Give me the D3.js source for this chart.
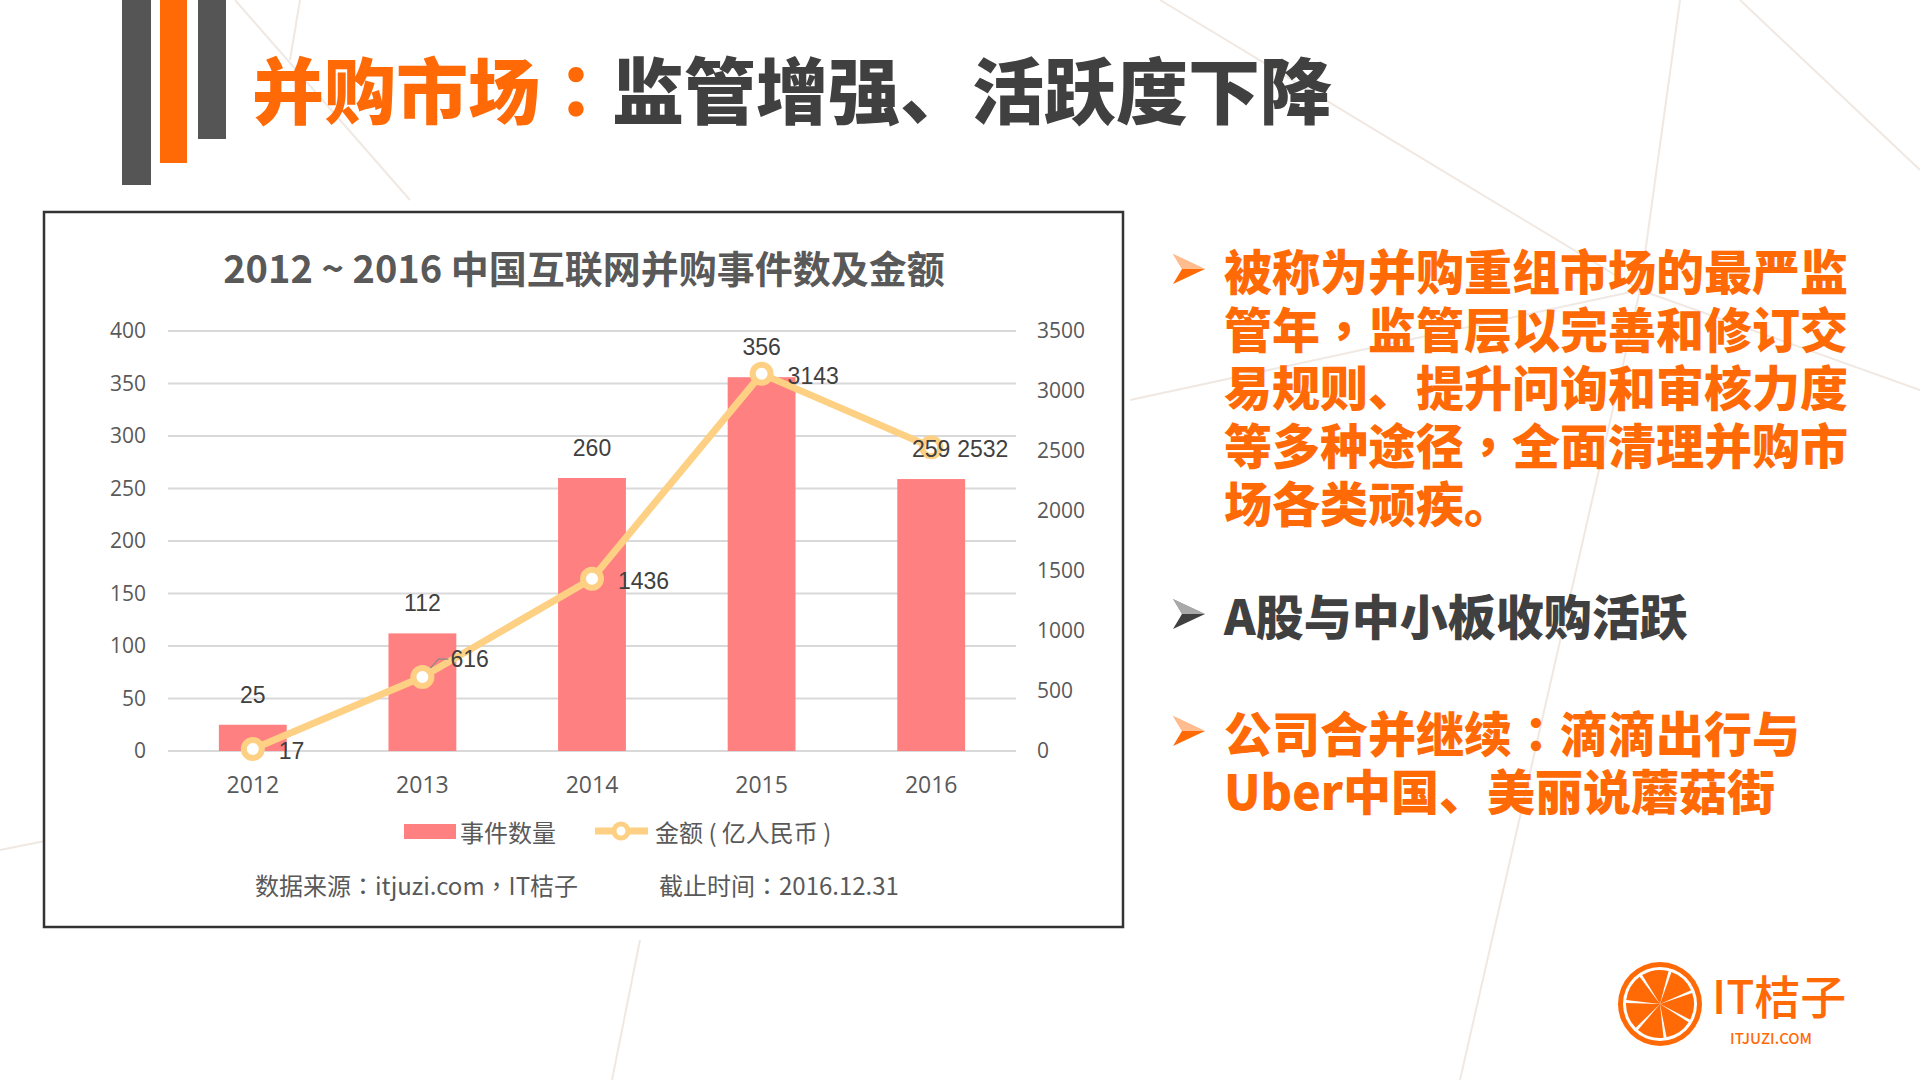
<!DOCTYPE html>
<html><head><meta charset="utf-8">
<script src="https://cdn.jsdelivr.net/npm/d3@7"></script>
<style>
html,body{margin:0;padding:0;background:#fff;}
svg{display:block;}
</style></head>
<body>
<svg id="c" width="1920" height="1080"></svg>
<script>
// ---- data ----
const years = ['2012','2013','2014','2015','2016'];
const events = [25,112,260,356,259];
const amounts = [17,616,1436,3143,2532];
const leftTicks = [0,50,100,150,200,250,300,350,400];
const rightTicks = [0,500,1000,1500,2000,2500,3000,3500];
const chartTitle = '2012 ~ 2016 中国互联网并购事件数及金额';
const legendLabels = ['事件数量','金额 ( 亿人民币 )'];
const sourceText = '数据来源：itjuzi.com，IT桔子';
const dateText = '截止时间：2016.12.31';
const pageTitleA = '并购市场：';
const pageTitleB = '监管增强、活跃度下降';
const bullet1 = ['被称为并购重组市场的最严监','管年，监管层以完善和修订交','易规则、提升问询和审核力度','等多种途径，全面清理并购市','场各类顽疾。'];
const bullet2 = ['A股与中小板收购活跃'];
const bullet3 = ['公司合并继续：滴滴出行与','Uber中国、美丽说蘑菇街'];

const ORANGE = '#ff6a06', DARK = '#404040', BAR = '#ff8080', LINE = '#fdd084';
const CJK = "'Noto Sans CJK SC','Noto Sans',sans-serif";
const CJKTC = "'Noto Sans CJK TC','Noto Sans CJK SC',sans-serif";
const NUM = "'Liberation Sans',Arial,sans-serif";

const svg = d3.select('#c');

// put centred punctuation (：，) in a TC font like the reference
function richText(sel, str){
  const parts = str.split(/([：，])/).filter(s=>s.length);
  parts.forEach(p=>{
    const t = sel.append('tspan').text(p);
    if (p==='：'||p==='，') t.style('font-family',CJKTC);
  });
  return sel;
}

// background decoration lines
const deco = [[235,0,410,200],[1160,0,1640,290],[1680,0,1640,290],[1130,400,1640,290],[1640,290,1920,390],[1640,290,1460,1080],[1740,0,1920,170],[640,940,612,1080],[0,850,60,838],[290,60,300,0]];
svg.append('g').selectAll('line').data(deco).join('line')
  .attr('x1',d=>d[0]).attr('y1',d=>d[1]).attr('x2',d=>d[2]).attr('y2',d=>d[3])
  .attr('stroke','#f0e8e2').attr('stroke-width',2);

// header bars
svg.append('rect').attr('x',122).attr('y',0).attr('width',29).attr('height',185).attr('fill','#555555');
svg.append('rect').attr('x',160).attr('y',0).attr('width',27).attr('height',163).attr('fill',ORANGE);
svg.append('rect').attr('x',198).attr('y',0).attr('width',28).attr('height',139).attr('fill','#555555');

// page title
const pt = svg.append('text').attr('x',252).attr('y',86).attr('dominant-baseline','central')
  .style('font-family',CJK).style('font-weight',900).style('font-size','72px');
richText(pt.append('tspan').attr('fill',ORANGE), pageTitleA);
pt.append('tspan').attr('fill',DARK).text(pageTitleB);

// chart box
svg.append('rect').attr('x',44).attr('y',212).attr('width',1079).attr('height',715)
  .attr('fill','#fff').attr('stroke','#333').attr('stroke-width',2.5);

svg.append('text').attr('x',584).attr('y',266).attr('text-anchor','middle').attr('dominant-baseline','central')
  .style('font-family',CJK).style('font-weight',700).style('font-size','38px').attr('fill','#595959').text(chartTitle);

// scales
const x = d3.scaleBand().domain(years).range([168,1016]).paddingInner(0.6).paddingOuter(0.3);
const yL = d3.scaleLinear().domain([0,400]).range([751,331]);
const yR = d3.scaleLinear().domain([0,3500]).range([751,331]);
const cx = d => x(d)+x.bandwidth()/2;

// gridlines
svg.append('g').selectAll('line').data(leftTicks).join('line')
  .attr('x1',168).attr('x2',1016).attr('y1',d=>yL(d)).attr('y2',d=>yL(d))
  .attr('stroke','#d9d9d9').attr('stroke-width',2);

// axes
const axL = svg.append('g').attr('transform','translate(146,0)')
  .call(d3.axisLeft(yL).tickValues(leftTicks).tickFormat(d3.format('d')).tickSize(0).tickPadding(0));
const axR = svg.append('g').attr('transform','translate(1037,0)')
  .call(d3.axisRight(yR).tickValues(rightTicks).tickFormat(d3.format('d')).tickSize(0).tickPadding(0));
const axX = svg.append('g').attr('transform','translate(0,777)')
  .call(d3.axisBottom(x).tickSize(0).tickPadding(0));
[axL,axR,axX].forEach(a=>{a.select('.domain').remove();
  a.selectAll('text').attr('fill','#595959').style('font-family',"'Open Sans',sans-serif");});
axL.selectAll('text').style('font-size','21px');
axR.selectAll('text').style('font-size','21px');
axX.selectAll('text').style('font-size','23px');

// bars
svg.append('g').selectAll('rect').data(years).join('rect')
  .attr('x',d=>x(d)).attr('width',x.bandwidth())
  .attr('y',(d,i)=>yL(events[i])).attr('height',(d,i)=>yL(0)-yL(events[i]))
  .attr('fill',BAR);

// line
const pts = years.map((d,i)=>[cx(d), yR(amounts[i])]);
svg.append('path').attr('d',d3.line()(pts)).attr('fill','none')
  .attr('stroke',LINE).attr('stroke-width',7).attr('stroke-linejoin','round');

// leader for 2013 label
const p1 = pts[1];
svg.append('path').attr('d',`M${p1[0]},${p1[1]} L${p1[0]+16},${p1[1]-18} L${p1[0]+26},${p1[1]-18}`)
  .attr('fill','none').attr('stroke','#888').attr('stroke-width',1.2);

svg.append('g').selectAll('circle').data(pts).join('circle')
  .attr('cx',d=>d[0]).attr('cy',d=>d[1]).attr('r',9)
  .attr('fill','#fff').attr('stroke',LINE).attr('stroke-width',6);

svg.append('g').selectAll('text').data(pts).join('text')
  .attr('x',(d,i)=>d[0]+(i===1?28:26)).attr('y',(d,i)=>d[1]+(i===1?-18:2))
  .attr('dominant-baseline','central')
  .style('font-family',NUM).style('font-size','23px').attr('fill','#404040')
  .text((d,i)=>amounts[i]);

// bar labels (drawn on top)
svg.append('g').selectAll('text').data(years).join('text')
  .attr('x',d=>cx(d)).attr('y',(d,i)=>yL(events[i])-30)
  .attr('text-anchor','middle').attr('dominant-baseline','central')
  .style('font-family',NUM).style('font-size','23px').attr('fill','#404040')
  .text((d,i)=>events[i]);

// legend
const lg = svg.append('g');
lg.append('rect').attr('x',404).attr('y',824).attr('width',52).attr('height',15).attr('fill',BAR);
lg.append('text').attr('x',460).attr('y',831).attr('dominant-baseline','central')
  .style('font-family',CJK).style('font-size','24px').attr('fill','#595959').text(legendLabels[0]);
lg.append('line').attr('x1',595).attr('x2',648).attr('y1',831).attr('y2',831).attr('stroke',LINE).attr('stroke-width',7);
lg.append('circle').attr('cx',621).attr('cy',831).attr('r',7).attr('fill','#fff').attr('stroke',LINE).attr('stroke-width',5);
lg.append('text').attr('x',655).attr('y',831).attr('dominant-baseline','central')
  .style('font-family',CJK).style('font-size','24px').attr('fill','#595959').text(legendLabels[1]);

// source
richText(svg.append('text').attr('x',255).attr('y',884).attr('dominant-baseline','central')
  .style('font-family',CJK).style('font-size','24px').attr('fill','#595959'), sourceText);
richText(svg.append('text').attr('x',659).attr('y',884).attr('dominant-baseline','central')
  .style('font-family',CJK).style('font-size','24px').attr('fill','#595959'), dateText);

// bullets
function arrow(xp, yc, color){
  const g = svg.append('g').attr('transform',`translate(${xp},${yc})`);
  g.append('path').attr('d','M0,-15 L32,0 L0,15 L9,0 Z').attr('fill',color);
  g.append('path').attr('d','M0,-15 L32,0 L9,0 Z').attr('fill','#fff').attr('opacity',0.55);
}
function block(lines, y0, color){
  arrow(1173, y0, color);
  const t = svg.append('text').attr('x',1224).attr('y',y0)
    .style('font-family',CJK).style('font-weight',900).style('font-size','48px')
    .attr('fill',color);
  lines.forEach((d,i)=>{
    const ln = t.append('tspan').attr('x',1224).attr('y',y0+i*58).attr('dominant-baseline','central');
    richText(ln, d);
  });
}
block(bullet1, 269, ORANGE);
block(bullet2, 614, DARK);
block(bullet3, 731, ORANGE);

// logo
const lgo = svg.append('g').attr('transform','translate(1660,1004)');
lgo.append('circle').attr('r',42).attr('fill',ORANGE);
lgo.append('circle').attr('r',37).attr('fill','#fff');
const slices = d3.pie().sort(null).padAngle(0.09)(d3.range(7).map(()=>1));
lgo.selectAll('path').data(slices).join('path')
  .attr('d',d3.arc().innerRadius(0).outerRadius(34).startAngle(d=>d.startAngle+0.3).endAngle(d=>d.endAngle+0.3).padAngle(d=>d.padAngle))
  .attr('fill',ORANGE);
svg.append('text').attr('x',1712).attr('y',994).attr('dominant-baseline','central')
  .style('font-family',CJK).style('font-weight',500).style('font-size','46px').attr('fill',ORANGE).text('IT桔子');
svg.append('text').attr('x',1730).attr('y',1037).attr('dominant-baseline','central')
  .style('font-family',CJK).style('font-weight',500).style('font-size','15px').attr('fill',ORANGE).text('ITJUZI.COM');
</script>
</body></html>
